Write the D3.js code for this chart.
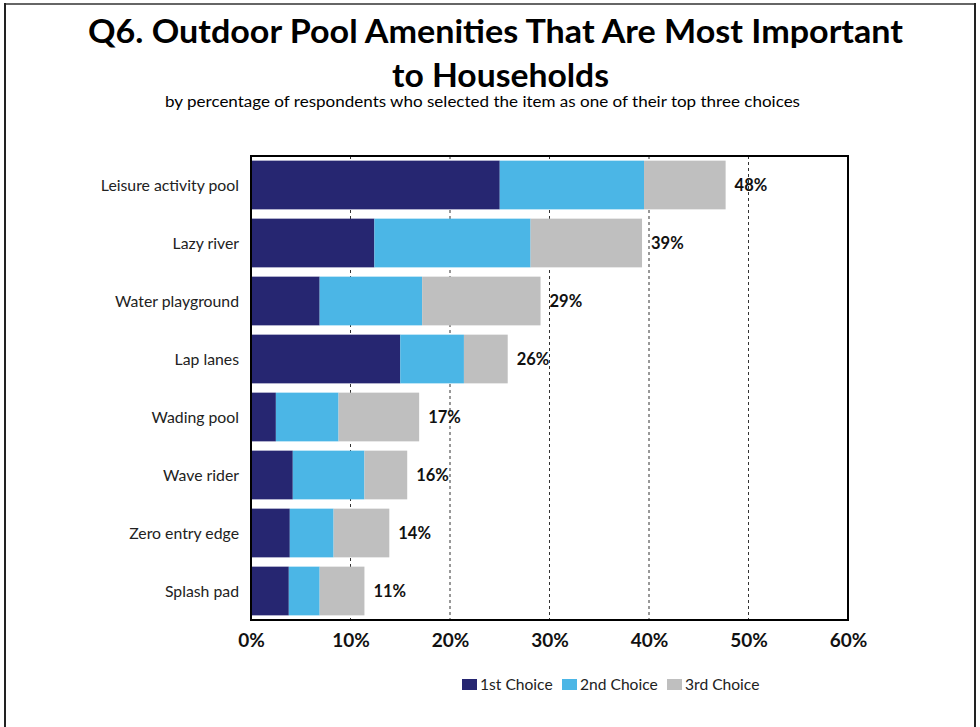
<!DOCTYPE html>
<html><head><meta charset="utf-8">
<script src="https://cdn.jsdelivr.net/npm/d3@7/dist/d3.min.js"></script>
<style>
html,body{margin:0;padding:0;background:#fff;}
svg{display:block;}
text{font-family:Lato,"Open Sans",sans-serif;}
</style></head>
<body><svg id="chart" width="980" height="727"></svg>
<script>
const categories = ["Leisure activity pool","Lazy river","Water playground","Lap lanes","Wading pool","Wave rider","Zero entry edge","Splash pad"];
const firstChoice  = [25.0, 12.4, 6.9, 15.0, 2.5, 4.2, 3.9, 3.8];
const secondChoice = [14.5, 15.7, 10.3, 6.4, 6.3, 7.2, 4.4, 3.1];
const thirdChoice  = [8.2, 11.2, 11.9, 4.4, 8.1, 4.3, 5.6, 4.5];
const totalLabels  = ["48%","39%","29%","26%","17%","16%","14%","11%"];
const seriesNames  = ["1st Choice","2nd Choice","3rd Choice"];
const tickValues   = [0,10,20,30,40,50,60];
const colors = ["#262671","#4BB6E6","#BFBFBF"];

const svg = d3.select("#chart");
// outer frame
svg.append("line").attr("x1",4).attr("x2",976).attr("y1",4).attr("y2",4).attr("stroke","#666").attr("stroke-width",2);
svg.append("line").attr("x1",5).attr("x2",5).attr("y1",3).attr("y2",727).attr("stroke","#222").attr("stroke-width",2);
svg.append("line").attr("x1",975).attr("x2",975).attr("y1",3).attr("y2",727).attr("stroke","#222").attr("stroke-width",2);

// titles
svg.append("text").attr("x",495.5).attr("y",43).attr("text-anchor","middle")
  .attr("textLength",815).attr("lengthAdjust","spacingAndGlyphs")
  .style("font-size","32px").style("font-weight","bold").text("Q6. Outdoor Pool Amenities That Are Most Important");
svg.append("text").attr("x",500.5).attr("y",87).attr("text-anchor","middle")
  .attr("textLength",217).attr("lengthAdjust","spacingAndGlyphs")
  .style("font-size","32px").style("font-weight","bold").text("to Households");
svg.append("text").attr("x",482.5).attr("y",107).attr("text-anchor","middle")
  .attr("textLength",635).attr("lengthAdjust","spacingAndGlyphs")
  .style("font-size","15.5px").text("by percentage of respondents who selected the item as one of their top three choices");

const pL = 251, pR = 848, pT = 156, pB = 620;
const x = d3.scaleLinear().domain([0,60]).range([pL,pR]);
const y = d3.scaleBand().domain(categories).range([pT,pB]).paddingInner(0.16).paddingOuter(0.08);

const data = categories.map((c,i)=>({cat:c, v:[firstChoice[i],secondChoice[i],thirdChoice[i]], label: totalLabels[i]}));
const stack = d3.stack().keys([0,1,2]).value((d,k)=>d.v[k]);
const series = stack(data);

// gridlines
svg.append("g").selectAll("line").data(tickValues.filter(t=>t>0 && t<60)).join("line")
  .attr("x1",d=>x(d)).attr("x2",d=>x(d)).attr("y1",pT).attr("y2",pB)
  .attr("stroke","#333").attr("stroke-width",1).attr("stroke-dasharray","3,3");

// bars
svg.append("g").selectAll("g").data(series).join("g").attr("fill",(d,i)=>colors[i])
  .selectAll("rect").data(d=>d).join("rect")
  .attr("x",d=>x(d[0])).attr("width",d=>x(d[1])-x(d[0]))
  .attr("y",d=>y(d.data.cat)).attr("height",y.bandwidth());

// value labels
svg.append("g").selectAll("text").data(data).join("text")
  .attr("x",d=>x(d3.sum(d.v))+9).attr("y",d=>y(d.cat)+y.bandwidth()/2).attr("dy","0.35em")
  .style("font-size","16.5px").style("font-weight","bold").attr("fill","#111").text(d=>d.label);

// plot border
svg.append("rect").attr("x",pL).attr("y",pT).attr("width",pR-pL).attr("height",pB-pT)
  .attr("fill","none").attr("stroke","#000").attr("stroke-width",2);

// category axis labels
svg.append("g").selectAll("text").data(categories).join("text")
  .attr("x",239).attr("y",d=>y(d)+y.bandwidth()/2).attr("dy","0.35em").attr("text-anchor","end")
  .style("font-size","15.8px").attr("fill","#222").text(d=>d);

// x axis
const xAxis = d3.axisBottom(x).tickValues(tickValues).tickFormat(d=>d+"%").tickSize(0).tickPadding(14);
const gx = svg.append("g").attr("transform",`translate(0,${pB})`).call(xAxis);
gx.select(".domain").remove();
gx.selectAll("text").style("font-size","19px").style("font-weight","bold").attr("fill","#111").style("font-family","Lato,sans-serif");

// legend
const legX = [462,562,667];
const lg = svg.append("g").selectAll("g").data(seriesNames).join("g")
  .attr("transform",(d,i)=>`translate(${legX[i]},679)`);
lg.append("rect").attr("width",15).attr("height",11).attr("fill",(d,i)=>colors[i]);
lg.append("text").attr("x",18).attr("y",10.5).style("font-size","15.6px").attr("fill","#222").text(d=>d);
</script></body></html>
